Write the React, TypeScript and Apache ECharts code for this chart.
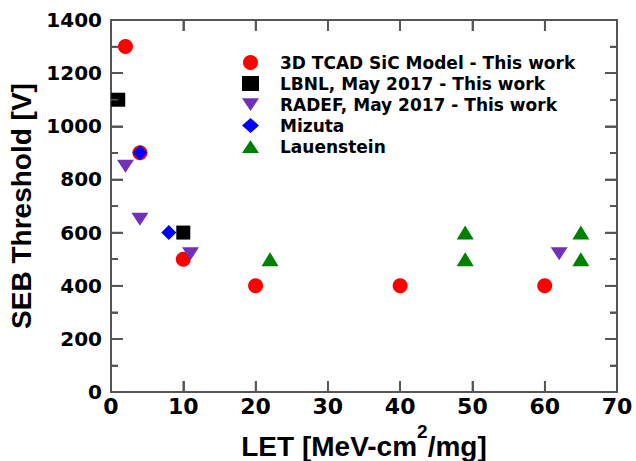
import React, { useEffect, useRef } from "react";
import * as echarts from "echarts";

const tcadX = [2, 4, 10, 20, 40, 60];
const tcadY = [1300, 900, 500, 400, 400, 400];
const lbnlX = [1, 10];
const lbnlY = [1100, 600];
const radefX = [2, 4, 11, 62];
const radefY = [850, 650, 520, 520];
const mizutaX = [4, 8];
const mizutaY = [900, 600];
const lauenX = [22, 49, 49, 65, 65];
const lauenY = [500, 600, 500, 600, 500];

const seriesNames = [
  "3D TCAD SiC Model - This work",
  "LBNL, May 2017 - This work",
  "RADEF, May 2017 - This work",
  "Mizuta",
  "Lauenstein",
];

const X_MIN = 0;
const X_MAX = 70;
const X_STEP = 10;
const Y_MIN = 0;
const Y_MAX = 1400;
const Y_STEP = 200;
const xTickValues = [10, 20, 30, 40, 50, 60];
const yMajorTickValues = [200, 400, 600, 800, 1000, 1200];
const yMinorTickValues = [100, 300, 500, 700, 900, 1100, 1300];

const zip = (xs: number[], ys: number[]) => xs.map((x, i) => [x, ys[i]]);

const TITLE_FONT = "Liberation Sans, Arial, Helvetica, sans-serif";
const WIDE_FONT = "DejaVu Sans, Liberation Sans, sans-serif";
const AXIS_COLOR = "#555";

export default function App() {
  const ref = useRef<HTMLDivElement>(null);
  useEffect(() => {
    if (!ref.current) return;
    const chart = echarts.init(ref.current, undefined, { renderer: "svg" });
    const downTri = "path://M0,0 L20,0 L10,15 Z";
    const upTri = "path://M10,0 L20,15 L0,15 Z";
    const fmt = (v: number) => String(v);
    const tickLine = { color: AXIS_COLOR, width: 1.5 };
    const commonX = {
      type: "value",
      min: X_MIN,
      max: X_MAX,
      interval: X_STEP,
      splitLine: { show: false },
      axisTick: { show: true, inside: true, length: 11, lineStyle: tickLine },
    };
    const commonY = {
      type: "value",
      min: Y_MIN,
      max: Y_MAX,
      interval: Y_STEP,
      splitLine: { show: false },
      axisTick: { show: true, inside: true, length: 12, lineStyle: tickLine },
      minorTick: { show: true, splitNumber: 2, length: 7, lineStyle: tickLine },
      minorSplitLine: { show: false },
    };
    const dataSeries: any[] = [
      {
        name: seriesNames[0],
        type: "scatter",
        symbol: "circle",
        symbolSize: 15,
        itemStyle: { color: "#ff0000", opacity: 1 },
        data: zip(tcadX, tcadY),
        z: 2,
      },
      {
        name: seriesNames[1],
        type: "scatter",
        symbol: "rect",
        symbolSize: 14,
        itemStyle: { color: "#000000", opacity: 1 },
        data: zip(lbnlX, lbnlY),
        z: 3,
      },
      {
        name: seriesNames[2],
        type: "scatter",
        symbol: downTri,
        symbolSize: [17, 13],
        itemStyle: { color: "#7030b8", opacity: 1 },
        data: zip(radefX, radefY),
        z: 4,
      },
      {
        name: seriesNames[3],
        type: "scatter",
        symbol: "diamond",
        symbolSize: 15,
        itemStyle: { color: "#0000ff", opacity: 1 },
        data: zip(mizutaX, mizutaY),
        z: 5,
      },
      {
        name: seriesNames[4],
        type: "scatter",
        symbol: upTri,
        symbolSize: [17, 14],
        itemStyle: { color: "#008000", opacity: 1 },
        data: zip(lauenX, lauenY),
        z: 6,
      },
    ];
    const option: any = {
      animation: false,
      textStyle: { fontFamily: TITLE_FONT },
      grid: { left: 111, right: 19, top: 20, bottom: 69, containLabel: false, outerBoundsMode: "none" },
      legend: {
        orient: "vertical",
        left: 237,
        top: 49,
        itemWidth: 17,
        itemHeight: 15,
        itemGap: 4,
        textStyle: { fontFamily: WIDE_FONT, fontWeight: "bold", fontSize: 17, color: "#000", padding: [0, 0, 0, 16] },
        data: seriesNames,
      },
      xAxis: [
        {
          ...commonX,
          position: "bottom",
          axisLine: { show: true, lineStyle: { color: AXIS_COLOR, width: 2 } },
          name: "{main|LET [MeV-cm}{sup|2}{main|/mg]}",
          nameLocation: "middle",
          nameGap: 25,
          nameTextStyle: {
            fontFamily: TITLE_FONT,
            fontWeight: "bold",
            fontSize: 28,
            color: "#000",
            rich: {
              main: { fontFamily: TITLE_FONT, fontWeight: "bold", fontSize: 28, color: "#000", verticalAlign: "bottom", padding: [11, 0, 0, 0] },
              sup: { fontFamily: TITLE_FONT, fontWeight: "bold", fontSize: 19, color: "#000", verticalAlign: "top" },
            },
          },
          axisLabel: { fontFamily: WIDE_FONT, fontWeight: "bold", fontSize: 22, color: "#000", margin: 3, formatter: fmt },
        },
        {
          ...commonX,
          position: "top",
          axisLine: { show: true, onZero: false, lineStyle: { color: AXIS_COLOR, width: 2 } },
          axisLabel: { show: false },
        },
      ],
      yAxis: [
        {
          ...commonY,
          position: "left",
          axisLine: { show: true, lineStyle: { color: AXIS_COLOR, width: 2 } },
          name: "SEB Threshold [V]",
          nameLocation: "middle",
          nameGap: 70,
          nameTextStyle: { fontFamily: TITLE_FONT, fontWeight: "bold", fontSize: 28, color: "#000" },
          axisLabel: { fontFamily: WIDE_FONT, fontWeight: "bold", fontSize: 20, color: "#000", margin: 9, formatter: fmt },
        },
        {
          ...commonY,
          position: "right",
          axisLine: { show: true, onZero: false, lineStyle: { color: AXIS_COLOR, width: 2 } },
          axisLabel: { show: false },
        },
      ],
      series: dataSeries,
    };
    chart.setOption(option);

    // Fallback tick marks positioned through the chart's own scales.
    const toPx = (x: number, y: number) => chart.convertToPixel({ gridIndex: 0 }, [x, y]) as number[];
    const fromPx = (px: number, py: number) => chart.convertFromPixel({ gridIndex: 0 }, [px, py]) as number[];
    const segs: any[] = [];
    const rects: any[] = [];
    const tw = 1.6;
    xTickValues.forEach((v) => {
      const b = toPx(v, Y_MIN);
      const t = toPx(v, Y_MAX);
      segs.push({ coords: [[v, Y_MIN], [v, fromPx(b[0], b[1] - 11)[1]]] });
      segs.push({ coords: [[v, Y_MAX], [v, fromPx(t[0], t[1] + 11)[1]]] });
      rects.push({ type: "rect", silent: true, z: 50, shape: { x: b[0] - tw / 2, y: b[1] - 11, width: tw, height: 11 }, style: { fill: AXIS_COLOR } });
      rects.push({ type: "rect", silent: true, z: 50, shape: { x: t[0] - tw / 2, y: t[1], width: tw, height: 11 }, style: { fill: AXIS_COLOR } });
    });
    const addY = (v: number, len: number) => {
      const l = toPx(X_MIN, v);
      const r = toPx(X_MAX, v);
      segs.push({ coords: [[X_MIN, v], [fromPx(l[0] + len, l[1])[0], v]] });
      segs.push({ coords: [[X_MAX, v], [fromPx(r[0] - len, r[1])[0], v]] });
      rects.push({ type: "rect", silent: true, z: 50, shape: { x: l[0], y: l[1] - tw / 2, width: len, height: tw }, style: { fill: AXIS_COLOR } });
      rects.push({ type: "rect", silent: true, z: 50, shape: { x: r[0] - len, y: r[1] - tw / 2, width: len, height: tw }, style: { fill: AXIS_COLOR } });
    };
    yMajorTickValues.forEach((v) => addY(v, 12));
    yMinorTickValues.forEach((v) => addY(v, 7));

    option.series = [
      ...dataSeries,
      {
        type: "lines",
        coordinateSystem: "cartesian2d",
        silent: true,
        z: 1,
        polyline: false,
        lineStyle: { color: AXIS_COLOR, width: 1.5, opacity: 1, curveness: 0 },
        data: segs,
      },
    ];
    option.graphic = { elements: rects };
    chart.setOption(option, true);

    return () => chart.dispose();
  }, []);
  return <div ref={ref} style={{ width: 636, height: 461, position: "absolute", left: 0, top: 0, background: "#fff" }} />;
}
